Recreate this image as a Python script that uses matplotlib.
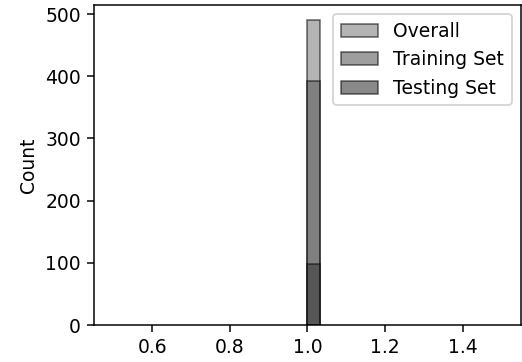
import numpy as np
import matplotlib.pyplot as plt

# data: every sample has the same value, so one bar per set
bin_value = [1.0]
overall_count = [490]
training_count = [392]
testing_count = [98]

labels = ["Overall", "Training Set", "Testing Set"]
colors = ["#838383", "#5e5e5e", "#3a3a3a"]

fig = plt.figure(figsize=(522/135, 362/135), dpi=135)
ax = fig.add_axes([0.180, 0.102, 0.818, 0.884])

handles = []
for counts, lab, col in zip([overall_count, training_count, testing_count], labels, colors):
    n, b, patches = ax.hist(bin_value, bins=30, range=(0.5, 1.5), weights=counts,
                            color=col, alpha=0.6, edgecolor="black", linewidth=0.8, label=lab)
    # empty bins: no outline along the baseline
    for h, p in zip(n, patches):
        if h == 0:
            p.set_linewidth(0)
    handles.append(patches[int(np.argmax(n))])

ax.set_ylabel("Count")
ax.legend(handles=handles, labels=labels, loc="upper right")

fig.savefig("out.png", dpi=135)
